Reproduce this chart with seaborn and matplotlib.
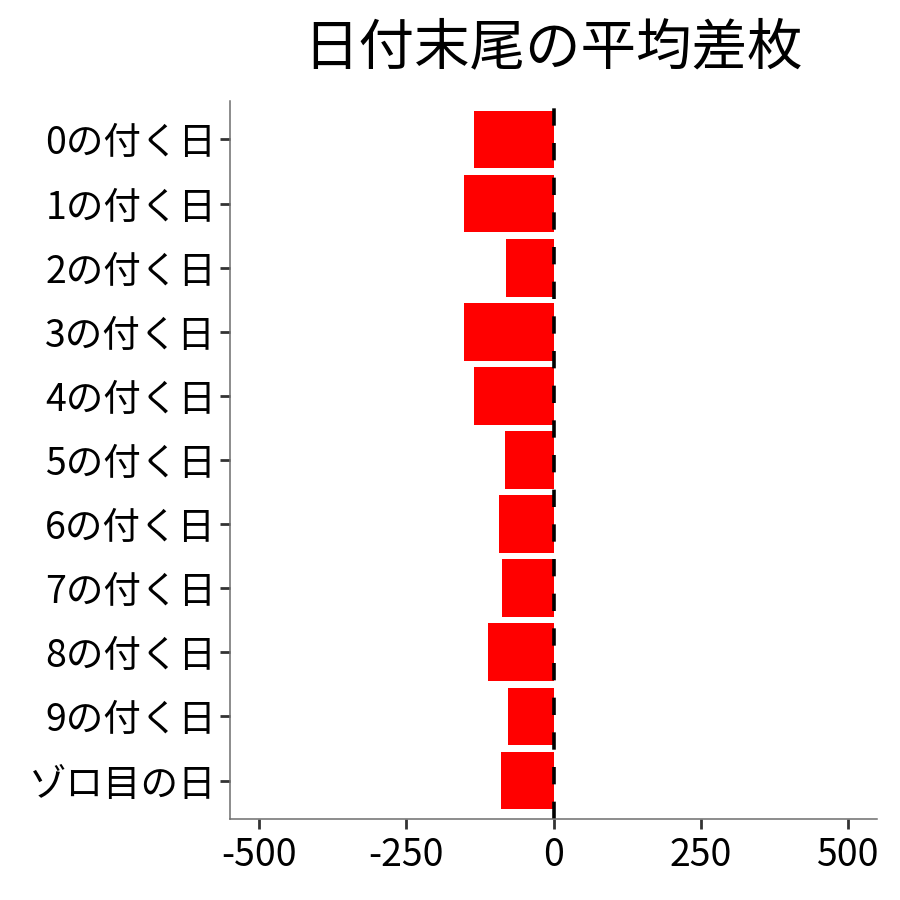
import matplotlib
matplotlib.use("Agg")
import matplotlib.pyplot as plt
import seaborn as sns
import pandas as pd

categories = ["0の付く日", "1の付く日", "2の付く日", "3の付く日", "4の付く日",
              "5の付く日", "6の付く日", "7の付く日", "8の付く日", "9の付く日", "ゾロ目の日"]
values = [-136, -152, -80, -152, -135, -83, -92, -87, -111, -77, -89]
xticks = [-500, -250, 0, 250, 500]
title = "日付末尾の平均差枚"

sns.set_theme(style="white")
plt.rcParams['font.family'] = ['Noto Sans CJK JP', 'DejaVu Sans']

df = pd.DataFrame({"label": categories, "value": values})

fig = plt.figure(figsize=(9, 9), dpi=100)
ax = fig.add_axes([0.2556, 0.09, 0.7188, 0.7978])

sns.barplot(data=df, x="value", y="label", order=categories, orient="h",
            color="#FF0000", saturation=1, width=0.9, ax=ax, edgecolor="none")
ax.axvline(0, color="black", linewidth=2.6, linestyle=(0, (4.8, 4.8)))

ax.set_xlim(-550, 550)
ax.set_ylim(len(categories) - 1 + 0.6, -0.6)
ax.set_xticks(xticks)
ax.set_xticklabels([str(v) for v in xticks])
ax.set_xlabel("")
ax.set_ylabel("")
ax.tick_params(axis="both", labelsize=27, colors="#333333", labelcolor="black",
               length=7, width=2, left=True, bottom=True, pad=3)
ax.tick_params(axis="x", pad=5)
for s in ["top", "right"]:
    ax.spines[s].set_visible(False)
for s in ["left", "bottom"]:
    ax.spines[s].set_color("#6e6e6e")
    ax.spines[s].set_linewidth(1.1)

fig.text(0.614, 0.946, title, ha="center", va="center", fontsize=40, color="black")

fig.savefig("out.png", dpi=100)
